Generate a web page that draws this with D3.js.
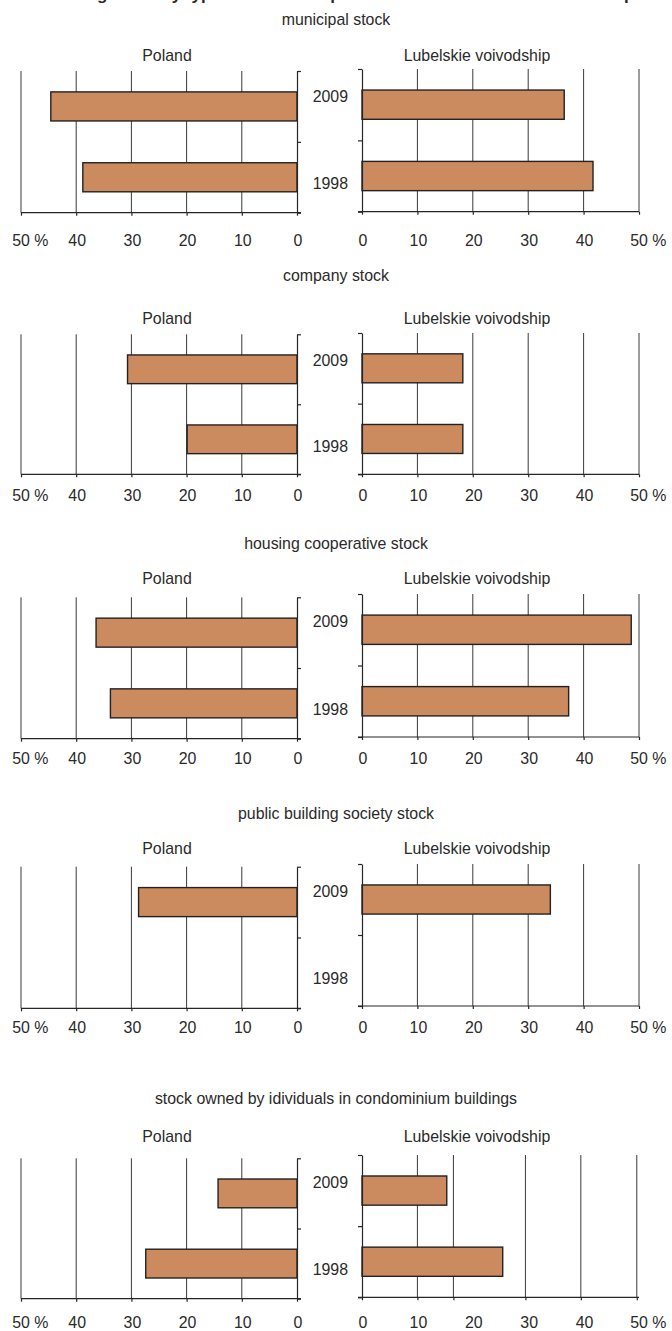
<!DOCTYPE html>
<html>
<head>
<meta charset="utf-8">
<script src="https://cdn.jsdelivr.net/npm/d3@7"></script>
<style>
  body { margin: 0; background: #fff; }
  svg text { font-family: "Liberation Sans", Arial, Helvetica, sans-serif; fill: #2a2a2a; }
</style>
</head>
<body>
<svg id="chart" width="672" height="1331"></svg>
<script>
// ---- data -------------------------------------------------------------
const chartTitle = "Dwelling stock by types of ownership in Poland and Lubelskie voivodship";
const years = ["2009", "1998"];
const regions = ["Poland", "Lubelskie voivodship"];
const panelTitles = [
  "municipal stock",
  "company stock",
  "housing cooperative stock",
  "public building society stock",
  "stock owned by idividuals in condominium buildings"
];
// share of dwellings (%), per panel: [2009, 1998]
const polandShare = [
  [44.6, 38.8],
  [30.7, 19.9],
  [36.4, 33.8],
  [28.7, null],
  [14.3, 27.4]
];
const lubelskieShare = [
  [36.5, 41.7],
  [18.2, 18.2],
  [48.6, 37.3],
  [34.0, null],
  [15.3, 25.4]
];
const tickValues = [0, 10, 20, 30, 40, 50];
const gridValues = [10, 20, 30, 40, 50];
// the last Lubelskie panel has its grid drawn at these positions
const gridValuesLast = [10, 16.5, 29.5, 39.5, 49.6];

// ---- layout -----------------------------------------------------------
const FONT = 15.9;
const layout = [
  { title: 19,   sub: 55,   lTop: 71,   lBot: 212.7,  rTop: 69,   rBot: 211.7,  lab: 240 },
  { title: 275,  sub: 318,  lTop: 334.3, lBot: 474.3, rTop: 333,  rBot: 474.3,  lab: 495 },
  { title: 543,  sub: 578,  lTop: 597.3, lBot: 738.7, rTop: 594,  rBot: 737,    lab: 758 },
  { title: 813,  sub: 848,  lTop: 866.7, lBot: 1008.3, rTop: 864, rBot: 1006,   lab: 1027 },
  { title: 1098, sub: 1136, lTop: 1158.3, lBot: 1298.7, rTop: 1155, rBot: 1297.3, lab: 1322.5 }
];
const subX = [167, 477];
const yearX = 348;

const xLeft = d3.scaleLinear().domain([0, 50]).range([297, 21]);
const xRight = d3.scaleLinear().domain([0, 50]).range([362, 639]);

const svg = d3.select("#chart");
const INK = "#262626";

// main heading (sits at the very top edge)
svg.append("text")
  .attr("x", 336).attr("y", -0.5)
  .attr("text-anchor", "middle")
  .style("font-size", "17px").style("font-weight", "bold")
  .text(chartTitle);

function drawSide(g, x, values, top, bot, side, grid, labY) {
  const y = d3.scaleBand().domain(years).range([top, bot])
    .paddingInner(0.59).paddingOuter(0.295);

  // vertical grid
  g.append("g").selectAll("line").data(grid).join("line")
    .attr("x1", d => x(d)).attr("x2", d => x(d))
    .attr("y1", top).attr("y2", bot)
    .attr("stroke", "#3a3a3a").attr("stroke-width", 1);

  // bars
  const rows = years.map((yr, k) => ({ year: yr, v: values[k] })).filter(r => r.v != null);
  g.append("g").selectAll("rect").data(rows).join("rect")
    .attr("x", d => Math.min(x(0), x(d.v)))
    .attr("width", d => Math.abs(x(d.v) - x(0)))
    .attr("y", d => y(d.year))
    .attr("height", y.bandwidth())
    .attr("fill", "#cc8b5e")
    .attr("stroke", "#222").attr("stroke-width", 1.4);

  // category axis (ticks at band boundaries)
  const yb = d3.scaleLinear().domain([0, years.length]).range([top, bot]);
  const yAxis = (side === "left" ? d3.axisRight(yb) : d3.axisLeft(yb))
    .tickValues(d3.range(years.length + 1)).tickFormat("").tickSize(4).tickSizeOuter(0);
  const ya = g.append("g").attr("transform", `translate(${x(0)},0)`).call(yAxis);
  ya.selectAll("path, line").attr("stroke", INK).attr("stroke-width", 1.2);

  // value axis
  const xAxis = d3.axisBottom(x).tickValues([0].concat(grid)).tickFormat("").tickSize(3).tickSizeOuter(0);
  const xa = g.append("g").attr("transform", `translate(0,${bot})`).call(xAxis);
  xa.select("path.domain").remove();
  xa.selectAll("line").attr("stroke", INK).attr("stroke-width", 1.2);
  const ext = side === "left" ? [x(50), x(0) + 4] : [x(0) - 4, x(50)];
  g.append("line").attr("x1", ext[0]).attr("x2", ext[1]).attr("y1", bot).attr("y2", bot)
    .attr("stroke", INK).attr("stroke-width", 1.2);

  // tick labels; the % sign trails the top value
  tickValues.forEach(v => {
    const t = g.append("text")
      .attr("y", labY).attr("dominant-baseline", "central")
      .style("font-size", FONT + "px");
    if (v === 50) {
      t.text("50").attr("x", 0);
      const w = t.node().getComputedTextLength();
      t.attr("x", x(v) - w / 2).attr("text-anchor", "start").text("50 %");
    } else {
      t.attr("x", x(v) + 1).attr("text-anchor", "middle").text(v);
    }
  });
}

layout.forEach((L, i) => {
  const g = svg.append("g");

  g.append("text")
    .attr("x", 336).attr("y", L.title)
    .attr("text-anchor", "middle").attr("dominant-baseline", "central")
    .style("font-size", FONT + "px")
    .text(panelTitles[i]);

  regions.forEach((r, k) => {
    g.append("text")
      .attr("x", subX[k]).attr("y", L.sub)
      .attr("text-anchor", "middle").attr("dominant-baseline", "central")
      .style("font-size", FONT + "px")
      .text(r);
  });

  drawSide(g, xLeft, polandShare[i], L.lTop, L.lBot, "left", gridValues, L.lab);
  drawSide(g, xRight, lubelskieShare[i], L.rTop, L.rBot, "right",
    i === panelTitles.length - 1 ? gridValuesLast : gridValues, L.lab);

  // year labels between the two halves
  const yp = d3.scalePoint().domain(years).range([L.rTop, L.rBot]).padding(0.32);
  g.selectAll("text.year").data(years).join("text")
    .attr("class", "year")
    .attr("x", yearX).attr("y", d => yp(d))
    .attr("text-anchor", "end").attr("dominant-baseline", "central")
    .style("font-size", FONT + "px")
    .text(d => d);
});
</script>
</body>
</html>
